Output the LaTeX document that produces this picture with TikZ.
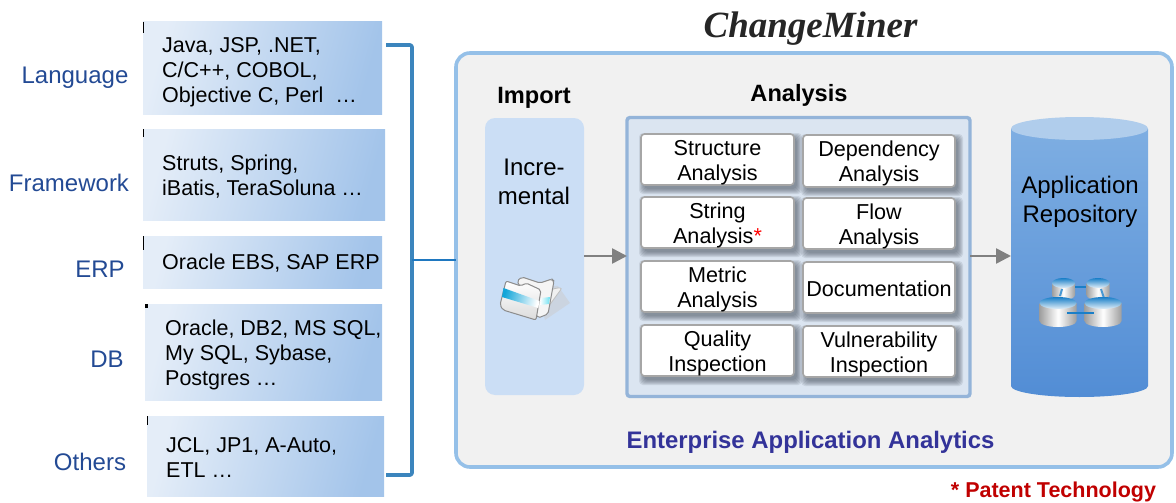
\documentclass[tikz,border=0pt]{standalone}
\usepackage{fontspec}
\setmainfont{Liberation Sans}
\newfontfamily\titlefont{Liberation Serif}
\definecolor{lblblue}{HTML}{234A94}
\definecolor{gradA}{HTML}{E4EDF8}
\definecolor{gradB}{HTML}{A3C4EA}
\definecolor{panelline}{HTML}{95C0E8}
\definecolor{panelfill}{HTML}{F1F1F1}
\definecolor{importfill}{HTML}{CBDEF5}
\definecolor{anline}{HTML}{94B4D9}
\definecolor{anfill}{HTML}{DBE5F1}
\definecolor{brk}{HTML}{3B85BD}
\definecolor{brkmid}{HTML}{1F78C0}
\definecolor{arrowgray}{HTML}{808080}
\definecolor{cylA}{HTML}{7EAEE2}
\definecolor{cylB}{HTML}{528DD5}
\definecolor{cylTop}{HTML}{B0CDEC}
\definecolor{eaa}{HTML}{333399}
\definecolor{patent}{HTML}{C00000}
\definecolor{iconblue}{HTML}{1A7FC8}
\definecolor{shadowc}{HTML}{4A5360}
\tikzset{
  srcbox/.style={inner sep=0pt,outer sep=0pt,left color=gradA,right color=gradB,shading angle=75},
  srctext/.style={anchor=west,align=left,inner sep=0pt,font=\fontsize{21.5}{25}\selectfont},
  lbl/.style={inner sep=0pt,text=lblblue,font=\fontsize{24}{28}\selectfont},
  anbox/.style={draw=black!35,line width=1.6pt,fill=white,rounded corners=3.5pt,inner sep=0pt,outer sep=0pt},
  antext/.style={inner sep=0pt,align=center,font=\fontsize{21.6}{25}\selectfont},
  flowarrow/.style={draw=arrowgray,line width=2.6pt,-{Triangle[length=15pt,width=15pt,fill=arrowgray]},shorten >=0pt},
  tick/.style={black,line width=1pt},
  heading/.style={inner sep=0pt,font=\bfseries\fontsize{23.6}{28}\selectfont},
  connect/.style={draw=brk,line width=3.6pt,line join=round},
}
\usetikzlibrary{arrows.meta}
\newcommand{\shadowrect}[4]{%
  \foreach \i in {0,1,...,5}{
    \fill[shadowc,opacity=0.13,rounded corners=4pt]
      ({#1+3-\i},{#2+4-\i}) rectangle ({#3+3+\i},{#4+4+\i});
  }}
\newcommand{\anitem}[7][-2.8pt]{% shift name x1 y1 x2 y2 text
  \shadowrect{#3}{#4}{#5}{#6}
  \node[anbox,minimum width=#5pt-#3pt,minimum height=#6pt-#4pt] (#2) at ({(#3+#5)/2},{(#4+#6)/2}) {};
  \node[antext] (#2t) at ([yshift=#1]#2.center) {#7};}
\newcommand{\srcitem}[5]{% name x1 y1 x2 y2
  \node[srcbox,minimum width=#4pt-#2pt,minimum height=#5pt-#3pt] (#1) at ({(#2+#4)/2},{(#3+#5)/2}) {};}
\newcommand{\dbicon}[5]{% cx top rx ry h
  \shade[left color=black!38,right color=black!38,middle color=white]
     ({#1-#3},{#2+#4}) -- ({#1-#3},{#2+#4+#5}) arc[start angle=180,end angle=360,x radius=#3,y radius=-#4] -- ({#1+#3},{#2+#4}) -- cycle;
  \shade[top color=iconblue,bottom color=iconblue!12]
     (#1,{#2+#4}) ellipse[x radius=#3,y radius=#4];}
\begin{document}
\begin{tikzpicture}[x=1pt,y=-1pt]
\useasboundingbox (0,0) rectangle (1176,503);
% title
\node[inner sep=0pt,text=black!85,font=\titlefont\bfseries\itshape\fontsize{37}{44}\selectfont] (title) at (810.5,29) {ChangeMiner};
% source boxes
\srcitem{lang}{143}{22}{382}{114}
\srcitem{frame}{143}{129}{385}{220}
\srcitem{erp}{143}{236}{382}{288}
\srcitem{db}{145}{304}{382}{400}
\srcitem{others}{147}{416}{384}{496}
\draw[tick] (143.5,22) -- (143.5,33);
\draw[tick] (143.5,129) -- (143.5,137);
\draw[tick] (143.5,236) -- (143.5,250);
\fill[black] (145,304) rectangle (148,308);
\draw[tick] (147.5,416) -- (147.5,425);
\node[srctext] (langt) at (162,72) {Java, JSP, .NET,\\C/C++, COBOL,\\Objective C, Perl\ \ …};
\node[srctext] (framet) at (162,177) {Struts, Spring,\\iBatis, TeraSoluna …};
\node[srctext] (erpt) at (162,263) {Oracle EBS, SAP ERP};
\node[srctext] (dbt) at (165,354.5) {Oracle, DB2, MS SQL,\\My SQL, Sybase,\\Postgres …};
\node[srctext] (othert) at (166,457.5) {JCL, JP1, A-Auto,\\ETL …};
% labels
\node[lbl] (l1) at (75,77.5) {Language};
\node[lbl] (l2) at (69,182.5) {Framework};
\node[lbl] (l3) at (100,269) {ERP};
\node[lbl] (l4) at (107,359) {DB};
\node[lbl] (l5) at (90,461.5) {Others};
% panel
\node[draw=panelline,fill=panelfill,line width=3.6pt,rounded corners=14pt,inner sep=0pt,outer sep=0pt,
  minimum width=716pt,minimum height=414pt] (panel) at (814,260) {};
% bracket
\coordinate (bt) at (386,45);
\coordinate (bb) at (386,475);
\coordinate (bj) at (412,260);
\draw[connect,rounded corners=2pt] (bt) -- (bj|-bt) -- (bj|-bb) -- (bb);
\draw[draw=brkmid,line width=2.6pt] (bj) -- (panel.west|-bj);
% import
\node[fill=importfill,rounded corners=10pt,inner sep=0pt,outer sep=0pt,minimum width=99pt,minimum height=277pt] (import) at (534.5,256.5) {};
\node[heading] (importh) at (534,98) {Import};
\node[inner sep=0pt,align=center,font=\fontsize{24}{29}\selectfont] (inct) at (534,182) {Incre-\\mental};
% folder icon
\begin{scope}
  \fill[black!20,opacity=.5] (545,320) -- (570,303) -- (558,286) -- (535,285) -- cycle;
  \fill[black!6,draw=black!25,line width=.8pt,rounded corners=2pt] (540,318) -- (562,288) -- (556,288) -- (535,296) -- cycle;
  \fill[black!4,draw=black!45,line width=1pt,rounded corners=2pt] (517,281) -- (522,277) -- (531,280) -- (540,283) -- (552,279) -- (554,281) -- (548,314) -- (538,318) -- cycle;
  \shade[top color=white,bottom color=black!14,draw=black!45,line width=1pt,rounded corners=2pt]
     (506,281) -- (521,286) -- (526,283) -- (541,290) -- (536,320) -- (503,310) -- (500,305) -- cycle;
  \shade[left color=iconblue!70!cyan,right color=white,shading angle=75] (503.5,288) -- (539.5,301) -- (538.3,308) -- (502,297) -- cycle;
  \shade[left color=white,right color=iconblue!40!cyan!60!white] (541,298) -- (550,297) -- (549,304) -- (540,305) -- cycle;
\end{scope}
% analysis
\node[draw=anline,fill=anfill,line width=3.4pt,rounded corners=3pt,inner sep=0pt,outer sep=0pt,minimum width=343pt,minimum height=279pt] (analysis) at (798.5,257) {};
\node[heading] (analysish) at (799,95) {Analysis};
\anitem{a1}{641}{134}{794}{185}{Structure\\Analysis}
\anitem{a2}{641}{197}{794}{248}{String\\Analysis\textcolor{red}{*}}
\anitem{a3}{641}{261}{794}{312}{Metric\\Analysis}
\anitem{a4}{641}{325}{794}{376}{Quality\\Inspection}
\anitem{b1}{803}{135}{955}{187}{Dependency\\Analysis}
\anitem{b2}{803}{198}{955}{249}{Flow\\Analysis}
\anitem[-1pt]{b3}{803}{262}{955}{313}{Documentation}
\anitem{b4}{803}{326}{955}{377}{Vulnerability\\Inspection}
% repository
\shade[top color=cylA,bottom color=cylB] (1011,129) -- (1011,386) arc[start angle=180,end angle=360,x radius=68.5,y radius=-11] -- (1148,129) -- cycle;
\fill[cylTop] (1079.5,128.5) ellipse[x radius=68.5,y radius=11.5];
\coordinate (repo) at (1011,256);
\node[inner sep=0pt,align=center,font=\fontsize{24}{29}\selectfont] (repot) at (1080,201.5) {Application\\Repository};
% db icon
\dbicon{1063.5}{278}{11.5}{5}{12}
\dbicon{1098}{278}{11.5}{5}{12}
\draw[iconblue,line width=1.4pt] (1075,287) -- (1086,287);
\draw[iconblue!80,line width=2pt] (1062,289) -- (1060,296);
\draw[iconblue!80,line width=2pt] (1101,289) -- (1104,298);
\dbicon{1058}{297}{18.5}{6}{18}
\dbicon{1103}{297}{18.5}{6}{18}
\draw[iconblue,line width=1.6pt] (1067,313) -- (1094,313);
% arrows
\draw[flowarrow] (import.east|-repo) -- (analysis.west|-repo);
\draw[flowarrow] (analysis.east|-repo) -- (repo);
% footer
\node[inner sep=0pt,text=eaa,font=\bfseries\fontsize{23.9}{28}\selectfont] (eaat) at (810.5,442.5) {Enterprise Application Analytics};
\node[inner sep=0pt,text=patent,font=\bfseries\fontsize{21.5}{24}\selectfont] (patt) at (1053.5,491.5) {* Patent Technology};
\end{tikzpicture}
\end{document}
